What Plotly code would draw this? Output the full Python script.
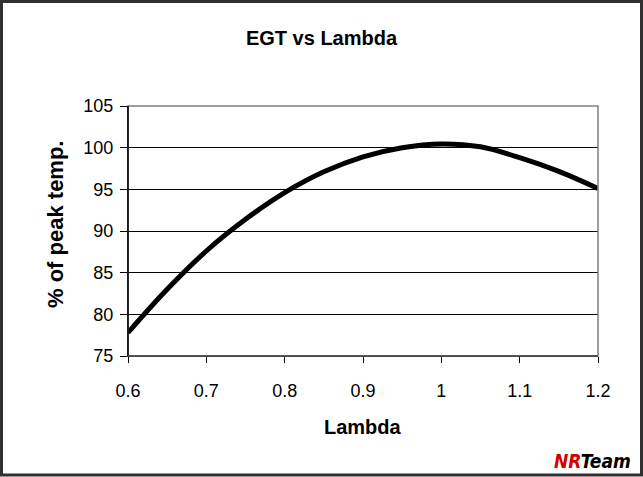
import plotly.graph_objects as go

lam = [0.6, 0.65, 0.7, 0.75, 0.8, 0.85, 0.9, 0.95, 1.0, 1.05, 1.1, 1.15, 1.2]
pct = [77.8, 83.0, 87.6, 91.4, 94.6, 97.1, 98.9, 100.0, 100.45, 100.1, 98.8, 97.15, 95.1]
x_ticks = [0.6, 0.7, 0.8, 0.9, 1.0, 1.1, 1.2]
x_tick_text = ["0.6", "0.7", "0.8", "0.9", "1", "1.1", "1.2"]
y_ticks = [75, 80, 85, 90, 95, 100, 105]

W, H = 643, 477
ml, mr, mt, mb = 128, 45, 106, 121
pw, ph = W - ml - mr, H - mt - mb

def px2paper_x(px):
    return (px - ml) / pw

def px2paper_y(py):
    return (H - mb - py) / ph

FONT = "Liberation Sans, Arial, sans-serif"

fig = go.Figure()
fig.add_trace(go.Scatter(x=lam, y=pct, mode="lines",
                         line=dict(color="black", width=5, shape="spline", smoothing=1.0),
                         showlegend=False, hoverinfo="skip"))

fig.update_layout(
    width=W, height=H,
    margin=dict(l=ml, r=mr, t=mt, b=mb, pad=0),
    paper_bgcolor="white", plot_bgcolor="white",
    font=dict(family=FONT, color="black", size=18),
    title=dict(text="<b>EGT vs Lambda</b>", x=0.5, xref="container", xanchor="center",
               y=1 - 38 / H, yref="container", yanchor="middle",
               font=dict(family=FONT, size=20, color="black")),
    xaxis=dict(range=[0.6, 1.2], tickvals=x_ticks, ticktext=x_tick_text,
               showgrid=False, zeroline=False, showline=True, linecolor="black", linewidth=1,
               ticks="outside", ticklen=6, tickcolor="black", tickwidth=1,
               ticklabelstandoff=12, tickfont=dict(size=18)),
    yaxis=dict(range=[75, 105], tickvals=y_ticks,
               showgrid=True, gridcolor="black", gridwidth=1, zeroline=False,
               showline=True, linecolor="black", linewidth=1,
               ticks="outside", ticklen=7, tickcolor="black", tickwidth=1,
               ticklabelstandoff=3, tickfont=dict(size=18)),
)

# plot area border (gray top/right)
fig.add_shape(type="rect", xref="paper", yref="paper", x0=0, x1=1, y0=0, y1=1,
              line=dict(color="#808080", width=1.5), layer="above")
fig.add_shape(type="line", xref="paper", yref="paper", x0=0, x1=0, y0=0, y1=1,
              line=dict(color="black", width=1.5), layer="above")
fig.add_shape(type="line", xref="paper", yref="paper", x0=0, x1=1, y0=0, y1=0,
              line=dict(color="#404040", width=1.5), layer="above")

# outer image border
fig.add_shape(type="rect", xref="paper", yref="paper",
              x0=px2paper_x(1.5), x1=px2paper_x(W - 1.5),
              y0=px2paper_y(H - 2), y1=px2paper_y(1.5),
              line=dict(color="#303030", width=3), layer="above")

fig.add_annotation(text="<b>Lambda</b>", xref="paper", yref="paper",
                   x=px2paper_x(363), y=px2paper_y(427), xanchor="center", yanchor="middle",
                   showarrow=False, font=dict(family=FONT, size=20, color="black"))
fig.add_annotation(text="<b>% of peak temp.</b>", xref="paper", yref="paper",
                   x=px2paper_x(55), y=px2paper_y(225), xanchor="center", yanchor="middle",
                   textangle=-90, showarrow=False, font=dict(family=FONT, size=22, color="black"))
fig.add_annotation(text="<b><i><span style='color:#d40000'>NR</span>Team</i></b>",
                   xref="paper", yref="paper",
                   x=px2paper_x(633), y=px2paper_y(461), xanchor="right", yanchor="middle",
                   showarrow=False, font=dict(family="DejaVu Sans Condensed, DejaVu Sans", size=19, color="black"))

fig.write_html("out.html")
